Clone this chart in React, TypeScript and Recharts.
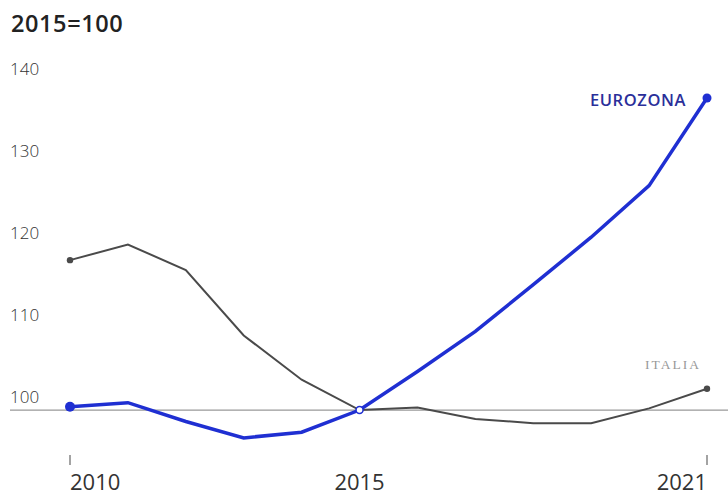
import { LineChart, Line, XAxis, YAxis, ReferenceLine } from 'recharts'

const years = [2010, 2011, 2012, 2013, 2014, 2015, 2016, 2017, 2018, 2019, 2020, 2021]
const italia = [118.3, 120.2, 117.1, 109.1, 103.7, 100, 100.3, 98.9, 98.4, 98.4, 100.2, 102.6]
const eurozona = [100.4, 100.9, 98.6, 96.6, 97.3, 100, 104.7, 109.6, 115.3, 121.1, 127.4, 138.1]
const yTicks = [100, 110, 120, 130, 140]
const xTicks = [2010, 2015, 2021]

const data = years.map((year, i) => ({ year, italia: italia[i], eurozona: eurozona[i] }))

const BLUE = '#1f2fd2'
const GRAY = '#4a4a4a'
const FONT = '"Open Sans", "DejaVu Sans", sans-serif'

const YTick = (props: any) => {
  const { y, payload } = props
  return (
    <text x={10} y={y - 13} dy={6} fontSize={17} fill="#333" fontFamily={FONT} fontWeight={300}>
      {payload.value}
    </text>
  )
}

const XTick = (props: any) => {
  const { x, y, payload, index } = props
  const anchor = index === 0 ? 'start' : index === xTicks.length - 1 ? 'end' : 'middle'
  const showMark = index === 0 || index === xTicks.length - 1
  return (
    <g>
      {showMark && <line x1={x} x2={x} y1={y - 4} y2={y + 6} stroke="#666" strokeWidth={1.2} />}
      <text x={x} y={y + 31} textAnchor={anchor} fontSize={22} fill="#333" fontFamily={FONT} fontWeight={400}>
        {payload.value}
      </text>
    </g>
  )
}

const italiaDot = (props: any) => {
  const { cx, cy, index } = props
  if (index === 0 || index === years.length - 1) {
    return <circle key={index} cx={cx} cy={cy} r={3.2} fill={GRAY} />
  }
  return <g key={index} />
}

const euroDot = (props: any) => {
  const { cx, cy, index } = props
  if (index === 0) return <circle key={index} cx={cx} cy={cy} r={5} fill={BLUE} />
  if (index === years.length - 1) return <circle key={index} cx={cx} cy={cy} r={4.5} fill={BLUE} />
  if (years[index] === 2015)
    return <circle key={index} cx={cx} cy={cy} r={3.5} fill="#fff" stroke={BLUE} strokeWidth={1.5} />
  return <g key={index} />
}

const euroLabel = (props: any) => {
  const { x, y, index } = props
  if (index !== years.length - 1) return null
  return (
    <text x={x - 21} y={y + 8} textAnchor="end" fontSize={16.5} fontWeight={600} fill="#2b2f9a" fontFamily={FONT} letterSpacing={0.6}>
      EUROZONA
    </text>
  )
}

const italiaLabel = (props: any) => {
  const { x, y, index } = props
  if (index !== years.length - 1) return null
  return (
    <text x={x - 6} y={y - 20} textAnchor="end" fontSize={13.5} fill="#999" fontFamily="'Liberation Serif', serif" letterSpacing={2}>
      ITALIA
    </text>
  )
}

export default function App() {
  return (
    <div style={{ position: 'absolute', left: 0, top: 0, width: 728, height: 498, background: '#fff' }}>
      <div
        style={{
          position: 'absolute',
          left: 11,
          top: 7,
          fontFamily: FONT,
          fontSize: 23.5,
          fontWeight: 600,
          letterSpacing: 0.6,
          color: '#222',
        }}
      >
        2015=100
      </div>
      <LineChart width={728} height={498} data={data} margin={{ top: 66, right: 0, left: 0, bottom: 0 }}>
        <XAxis
          dataKey="year"
          type="number"
          domain={[2010, 2021]}
          ticks={xTicks}
          padding={{ left: 60, right: 21 }}
          axisLine={false}
          tickLine={false}
          height={47}
          tick={<XTick />}
          interval={0}
        />
        <YAxis
          type="number"
          domain={[95, 142]}
          ticks={yTicks}
          width={10}
          axisLine={false}
          tickLine={false}
          tick={<YTick />}
          interval={0}
          allowDataOverflow
        />
        <ReferenceLine y={100} stroke="#999" strokeWidth={1.2} />
        <Line
          dataKey="italia"
          stroke={GRAY}
          strokeWidth={2}
          dot={italiaDot}
          activeDot={false}
          label={italiaLabel}
          isAnimationActive={false}
        />
        <Line
          dataKey="eurozona"
          stroke={BLUE}
          strokeWidth={3.5}
          dot={euroDot}
          activeDot={false}
          label={euroLabel}
          isAnimationActive={false}
        />
      </LineChart>
    </div>
  )
}
